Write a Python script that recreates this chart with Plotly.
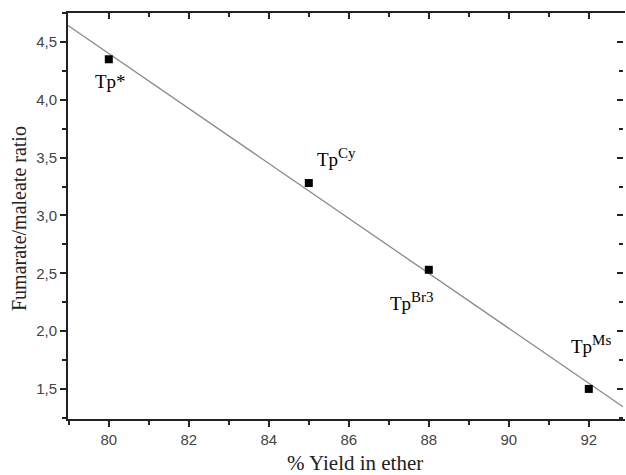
import numpy as np
import plotly.graph_objects as go

# Data
yield_ether = [80, 85, 88, 92]
ratio = [4.35, 3.28, 2.53, 1.50]
label_base = ["Tp*", "Tp", "Tp", "Tp"]
label_sup = ["", "Cy", "Br3", "Ms"]
label_x = [80.03, 85.68, 87.58, 92.05]
label_y = [4.16, 3.50, 2.26, 1.88]

x_tickvals = [80, 82, 84, 86, 88, 90, 92]
x_ticktext = ["80", "82", "84", "86", "88", "90", "92"]
y_tickvals = [1.5, 2.0, 2.5, 3.0, 3.5, 4.0, 4.5]
y_ticktext = ["1,5", "2,0", "2,5", "3,0", "3,5", "4,0", "4,5"]

x_range = [78.98, 92.855]
y_range = [1.24, 4.75]

# Linear fit
slope, intercept = np.polyfit(yield_ether, ratio, 1)
fit_x = [78.5, 93.5]
fit_y = [slope * v + intercept for v in fit_x]

fig = go.Figure()
fig.add_trace(go.Scatter(x=fit_x, y=fit_y, mode="lines",
                         line=dict(color="#8a8a8a", width=1.3),
                         hoverinfo="skip", showlegend=False))
fig.add_trace(go.Scatter(x=yield_ether, y=ratio, mode="markers",
                         marker=dict(symbol="square", size=8, color="black"),
                         showlegend=False))
# invisible trace for top/right axes
fig.add_trace(go.Scatter(x=[x_range[0]], y=[y_range[0]], xaxis="x2", yaxis="y2",
                         mode="markers", marker=dict(opacity=0), hoverinfo="skip",
                         showlegend=False))

for lx, ly, b, s in zip(label_x, label_y, label_base, label_sup):
    t = b + (f"<sup><span style='font-size:15px'>{s}</span></sup>" if s else "")
    fig.add_annotation(x=lx, y=ly, text=t, showarrow=False,
                       xanchor="center", yanchor="middle",
                       font=dict(family="Liberation Serif", size=19, color="black"))

fig.add_annotation(xref="paper", yref="paper", x=(355 - 68) / 555, y=0,
                   yshift=-44, xanchor="center", yanchor="middle",
                   text="% Yield in ether", showarrow=False,
                   font=dict(family="Liberation Serif", size=21, color="#222"))
fig.add_annotation(xref="paper", yref="paper", x=0, y=(419 - 219) / 406,
                   xshift=-49, xanchor="center", yanchor="middle", textangle=-90,
                   text="Fumarate/maleate ratio", showarrow=False,
                   font=dict(family="Liberation Serif", size=20, color="#222"))

tickfont = dict(family="Liberation Sans", size=15, color="#444444")

common = dict(showgrid=False, zeroline=False, automargin=False,
              linewidth=2, tickwidth=2, tickcolor="#222", ticklen=6, showline=True)

fig.update_layout(
    width=626, height=475,
    margin=dict(l=68, r=3, t=13, b=56),
    plot_bgcolor="white", paper_bgcolor="white",
    xaxis=dict(range=x_range, tickvals=x_tickvals, ticktext=x_ticktext,
               ticks="outside", tickfont=tickfont, linecolor="#222",
               minor=dict(dtick=1, tick0=79, ticks="outside", ticklen=4, tickwidth=2, tickcolor="#222"),
               **common),
    yaxis=dict(range=y_range, tickvals=y_tickvals, ticktext=y_ticktext,
               ticks="outside", tickfont=tickfont, linecolor="#222",
               minor=dict(dtick=0.25, tick0=1.25, ticks="outside", ticklen=4, tickwidth=2, tickcolor="#222"),
               **common),
    xaxis2=dict(range=x_range, overlaying="x", side="top", tickvals=x_tickvals,
                ticks="inside", showticklabels=False, linecolor="#222",
                minor=dict(dtick=1, tick0=79, ticks="inside", ticklen=4, tickwidth=2, tickcolor="#222"),
                **common),
    yaxis2=dict(range=y_range, overlaying="y", side="right", tickvals=y_tickvals,
                ticks="inside", showticklabels=False, linecolor="rgba(0,0,0,0)",
                minor=dict(dtick=0.25, tick0=1.25, ticks="inside", ticklen=4, tickwidth=2, tickcolor="#222"),
                **common),
)

fig.write_html("out.html", config={"displayModeBar": False},
               post_script="document.body.style.margin='0';document.body.style.overflow='hidden';")
